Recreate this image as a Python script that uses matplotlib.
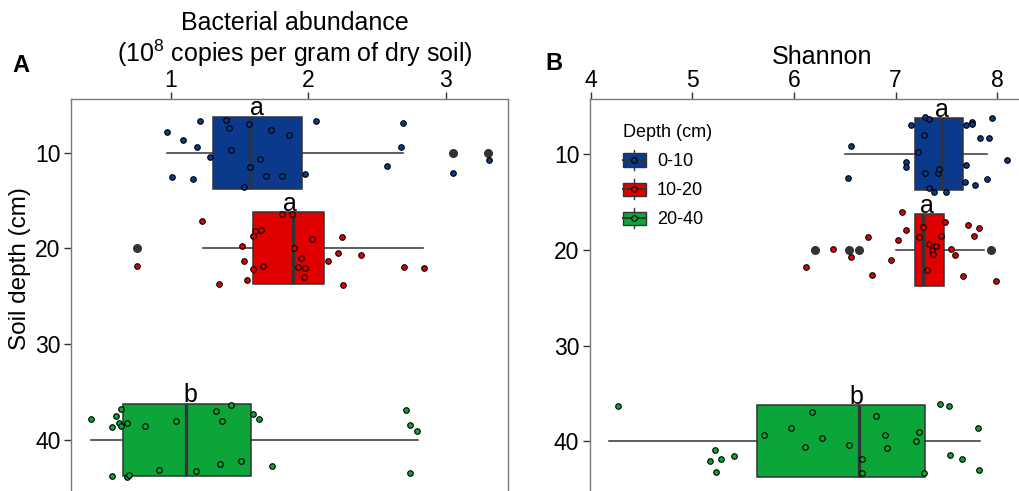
import matplotlib
matplotlib.use("Agg")
import matplotlib.pyplot as plt
from matplotlib.patches import Rectangle, Patch
from matplotlib.lines import Line2D
from matplotlib.legend_handler import HandlerBase

plt.rcParams['font.family'] = ['Liberation Sans', 'DejaVu Sans']
plt.rcParams['mathtext.fontset'] = 'custom'
plt.rcParams['mathtext.rm'] = 'Liberation Sans'

# ---------------- data ----------------
depth_labels = ['0-10', '10-20', '20-40']
depth_pos = [10, 20, 40]
colors = ['#0B3A8C', '#E00000', '#0BA53A']

# Panel A: bacterial abundance box statistics
abund_q1 = [1.31, 1.60, 0.651]
abund_med = [1.577, 1.887, 1.111]
abund_q3 = [1.955, 2.117, 1.582]
abund_whislo = [0.975, 1.233, 0.420]
abund_whishi = [2.69, 2.837, 2.796]
abund_fliers = [[3.055, 3.31], [0.753], []]
abund_letters = ['a', 'a', 'b']
abund_letter_x = [1.626, 1.868, 1.144]

# Panel A jittered points
abund_x_010 = [1.215, 0.975, 1.092, 1.193, 1.284, 1.007, 1.16, 1.404, 1.426, 1.572,
               1.727, 1.858, 1.441, 1.649, 1.579, 1.691, 1.812, 1.531, 2.055, 1.977,
               2.692, 2.677, 2.573, 3.055, 3.313]
abund_y_010 = [6.66, 7.81, 8.64, 9.40, 10.48, 12.54, 12.75, 6.55, 7.39, 7.0,
               7.60, 8.15, 9.69, 10.63, 11.46, 12.47, 12.43, 13.58, 6.69, 12.19,
               6.93, 9.37, 11.39, 12.15, 10.79]
abund_x_1020 = [1.225, 1.809, 1.882, 1.655, 1.611, 1.601, 2.030, 2.246, 1.519, 1.895,
                2.219, 2.384, 1.531, 1.673, 1.601, 1.948, 1.928, 1.979, 1.967, 2.146,
                1.553, 1.351, 2.251, 0.753, 2.699, 2.840]
abund_y_1020 = [17.15, 16.42, 16.45, 18.06, 18.22, 18.71, 19.06, 18.82, 19.73, 19.94,
                20.49, 20.67, 21.30, 21.82, 22.19, 21.01, 21.95, 22.06, 23.03, 21.33,
                23.34, 23.70, 23.83, 21.82, 21.99, 22.03]
abund_x_2040 = [0.418, 0.636, 0.602, 0.626, 0.571, 0.641, 0.684, 0.811, 1.039, 1.332,
                1.439, 1.373, 1.601, 1.640, 0.915, 1.186, 1.359, 1.509, 0.573, 0.684,
                0.699, 1.735, 2.713, 2.743, 2.793, 2.740]
abund_y_2040 = [37.87, 36.82, 37.52, 38.29, 38.67, 38.57, 38.29, 38.57, 38.05, 37.0,
                36.34, 38.05, 37.35, 37.87, 43.17, 43.27, 42.57, 42.23, 43.82, 43.93,
                43.66, 42.78, 36.87, 38.46, 39.09, 43.48]

# Panel B: Shannon box statistics
shan_q1 = [7.187, 7.19, 5.633]
shan_med = [7.453, 7.27, 6.636]
shan_q3 = [7.66, 7.48, 7.286]
shan_whislo = [6.50, 7.0, 4.18]
shan_whishi = [7.90, 7.87, 7.83]
shan_fliers = [[], [6.204, 6.544, 6.642, 7.937], []]
shan_letters = ['a', 'a', 'b']
shan_letter_x = [7.46, 7.31, 6.617]

# Panel B jittered points
shan_x_010 = [6.561, 6.528, 7.151, 7.292, 7.328, 7.279, 7.217, 7.102, 7.102, 7.286,
              7.417, 7.429, 7.331, 7.374, 7.492, 7.692, 7.751, 7.754, 7.948, 7.830,
              7.921, 7.692, 7.685, 7.784, 7.902, 8.096]
shan_y_010 = [9.16, 12.48, 6.94, 6.07, 6.34, 7.98, 9.76, 10.80, 11.30, 11.95,
              11.92, 11.54, 13.49, 13.91, 13.91, 6.97, 6.66, 6.87, 6.24, 8.30,
              8.30, 11.12, 12.93, 13.21, 12.61, 10.63]
shan_x_1020 = [7.065, 7.099, 6.725, 7.023, 7.227, 7.266, 7.486, 7.449, 7.712, 7.823,
               7.768, 6.387, 6.561, 6.115, 6.764, 6.951, 7.328, 7.361, 7.397, 7.368,
               7.308, 7.545, 7.585, 7.660, 7.984]
shan_y_1020 = [16.06, 17.88, 18.64, 18.96, 18.67, 17.60, 17.11, 18.54, 17.36, 17.67,
               18.51, 19.93, 20.70, 21.81, 22.61, 21.01, 19.34, 20.03, 19.61, 20.45,
               22.12, 19.90, 20.49, 22.69, 23.24]
shan_x_2040 = [4.266, 5.223, 5.171, 5.285, 5.407, 5.230, 5.705, 5.970, 6.177, 6.273,
               6.108, 6.538, 6.666, 6.666, 6.807, 6.895, 6.918, 7.230, 7.200, 7.276,
               7.439, 7.522, 7.532, 7.653, 7.807, 7.823]
shan_y_2040 = [36.34, 40.91, 42.09, 41.85, 41.57, 43.18, 39.31, 38.58, 36.91, 39.62,
               40.60, 40.36, 41.85, 43.31, 37.36, 39.34, 40.73, 39.0, 39.97, 43.31,
               36.13, 36.28, 41.43, 41.82, 38.64, 43.0]

# ---------------- figure ----------------
W, H = 1019, 491
fig = plt.figure(figsize=(W / 100, H / 100), dpi=100)

def px_axes(left, top, right, bottom):
    return fig.add_axes([left / W, 1 - bottom / H, (right - left) / W, (bottom - top) / H])

axA = px_axes(71, 99, 508, 516)
axB = px_axes(589.7, 99, 1053.7, 516)

DARK = '#333333'
BOXW = 7.5


def draw_panel(ax, q1, med, q3, lo, hi, fliers, pts_x, pts_y, letters, letter_x):
    stats = []
    for i in range(3):
        stats.append(dict(q1=q1[i], med=med[i], q3=q3[i], whislo=lo[i], whishi=hi[i],
                          fliers=fliers[i], label=depth_labels[i]))
    bp = ax.bxp(stats, positions=depth_pos, widths=BOXW, orientation='horizontal',
                patch_artist=True, showcaps=False, manage_ticks=False,
                boxprops=dict(edgecolor=DARK, linewidth=1.1),
                whiskerprops=dict(color=DARK, linewidth=1.1),
                medianprops=dict(color=DARK, linewidth=2.4, solid_capstyle='butt'),
                flierprops=dict(marker='o', markerfacecolor=DARK, markeredgecolor=DARK,
                                markersize=5.5, linestyle='none'))
    for patch, c in zip(bp['boxes'], colors):
        patch.set_facecolor(c)
    for i in range(3):
        ax.plot(pts_x[i], pts_y[i], linestyle='none', marker='o', markersize=4.0,
                markerfacecolor=colors[i], markeredgecolor='black', markeredgewidth=0.8,
                zorder=4)
        ax.text(letter_x[i], depth_pos[i] - BOXW / 2 - 0.15, letters[i], ha='center',
                va='baseline', fontsize=18, color='black', zorder=5)
    ax.xaxis.tick_top()
    ax.xaxis.set_label_position('top')
    ax.set_yticks([10, 20, 30, 40])
    ax.tick_params(axis='both', labelsize=16.5, length=5, width=1.0, color=DARK,
                   labelcolor='black')
    ax.tick_params(axis='x', pad=0.3)
    ax.tick_params(axis='y', pad=2.5)
    for s in ax.spines.values():
        s.set_color('#7a7a7a')
        s.set_linewidth(1.0)


draw_panel(axA, abund_q1, abund_med, abund_q3, abund_whislo, abund_whishi, abund_fliers,
           [abund_x_010, abund_x_1020, abund_x_2040], [abund_y_010, abund_y_1020, abund_y_2040],
           abund_letters, abund_letter_x)
draw_panel(axB, shan_q1, shan_med, shan_q3, shan_whislo, shan_whishi, shan_fliers,
           [shan_x_010, shan_x_1020, shan_x_2040], [shan_y_010, shan_y_1020, shan_y_2040],
           shan_letters, shan_letter_x)

axA.set_xlim(0.275, 3.453)
axA.set_ylim(47.98, 4.39)
axA.set_xticks([1, 2, 3])
axB.set_xlim(3.99, 8.555)
axB.set_ylim(47.81, 4.22)
axB.set_xticks([4, 5, 6, 7, 8])

axA.set_xlabel('Bacterial abundance\n(10$^{8}$ copies per gram of dry soil)', fontsize=18,
               ha='center', multialignment='center', labelpad=5, linespacing=1.1)
axA.xaxis.label.set_x((295 - 71) / 437)
axA.set_ylabel('Soil depth (cm)', fontsize=17.5, labelpad=3)
axA.yaxis.label.set_y((516 - 269) / 417)

axB.set_xlabel('Shannon', fontsize=18, labelpad=3.5)

fig.text(20.5 / W, 1 - 66 / H, 'A', fontsize=17, fontweight='bold', ha='center', va='center')
fig.text(554 / W, 1 - 64 / H, 'B', fontsize=17, fontweight='bold', ha='center', va='center')


# legend with boxplot-like keys
class BoxKeyHandler(HandlerBase):
    def create_artists(self, legend, orig_handle, xdescent, ydescent, width, height,
                       fontsize, trans):
        color = orig_handle.get_facecolor()
        x0 = -xdescent
        yb = -ydescent
        bh = height * 0.66
        y0 = yb + (height - bh) / 2
        cx = x0 + width / 2
        cy = yb + height / 2
        v = Line2D([cx, cx], [yb, yb + height], color=DARK, lw=1.0, transform=trans)
        rect = Rectangle((x0, y0), width, bh, facecolor=color, edgecolor=DARK, lw=1.0,
                         transform=trans)
        h = Line2D([x0, x0 + width], [cy, cy], color=DARK, lw=1.4, transform=trans)
        m = Line2D([cx], [cy], marker='o', ms=4, mfc=color, mec='black', mew=0.8,
                   ls='none', transform=trans)
        return [v, rect, h, m]


handles = [Patch(facecolor=c) for c in colors]
leg = axB.legend(handles, depth_labels, title='Depth (cm)', loc='upper left',
                 bbox_to_anchor=(623 / W, 1 - 124 / H), bbox_transform=fig.transFigure,
                 frameon=False, fontsize=13, title_fontsize=13,
                 handler_map={Patch: BoxKeyHandler()}, handlelength=1.26, handleheight=1.33,
                 handletextpad=0.63, labelspacing=0.5, borderpad=0, borderaxespad=0,
                 alignment='left')

fig.savefig('out.png', dpi=100)
